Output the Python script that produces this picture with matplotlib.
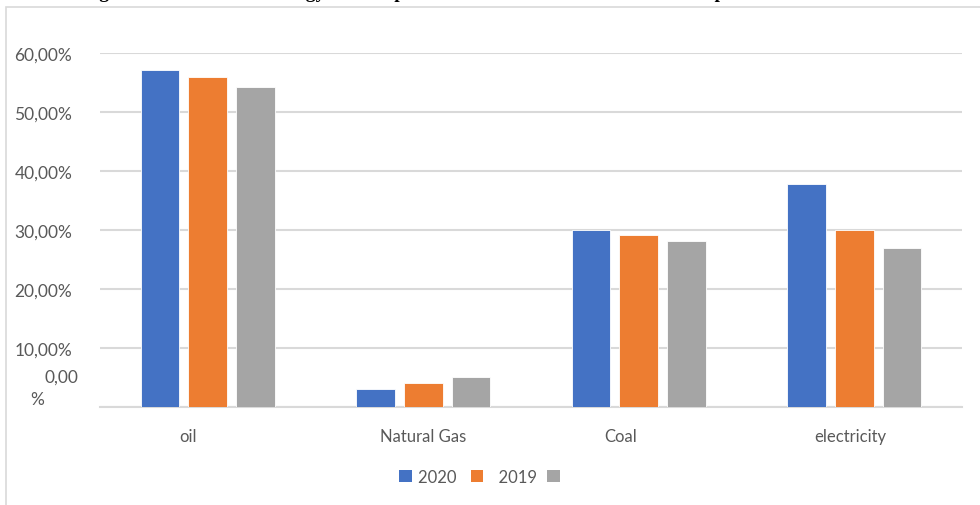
import numpy as np
import matplotlib
matplotlib.use('Agg')
import matplotlib.pyplot as plt
from matplotlib.patches import Patch, Rectangle
from matplotlib.transforms import ScaledTranslation

plt.rcParams['font.family'] = ['Lato', 'DejaVu Sans']

categories = ['oil', 'Natural Gas', 'Coal', 'electricity']
share_2020 = [0.572, 0.030, 0.300, 0.378]
share_2019 = [0.560, 0.040, 0.291, 0.300]
share_2018 = [0.543, 0.051, 0.281, 0.269]
series_labels = ['2020 ', '  2019', '']
colors = ['#4472C4', '#ED7D31', '#A5A5A5']
y_ticks = [0.0, 0.1, 0.2, 0.3, 0.4, 0.5, 0.6]
y_tick_labels = ['', '10,00%', '20,00%', '30,00%', '40,00%', '50,00%', '60,00%']

W, H = 980, 506
fig = plt.figure(figsize=(W / 100, H / 100), dpi=100)
ax = fig.add_axes([100 / W, (H - 408) / H, (962 - 100) / W, (408 - 54) / H])

# chart frame
fig.patches.append(Rectangle((6 / W, -0.1), 1.2, 1.1 - 8 / H, transform=fig.transFigure,
                             fill=False, edgecolor='#D9D9D9', linewidth=1.2))

# caption above the frame (cut by the top edge)
fig.text(82 / W, 1 + 1.8 / H,
         'Figure 3: Structure of energy consumption in the nation over the 2018-2020 period',
         fontsize=14, fontweight='bold', family='Liberation Serif', ha='left', va='baseline')

x = np.arange(len(categories))
bw = 0.179
step = 0.221
for i, (vals, lab) in enumerate(zip([share_2020, share_2019, share_2018], series_labels)):
    ax.bar(x + (i - 1) * step, vals, width=bw, color=colors[i], edgecolor='white',
           linewidth=0.6, label=lab, zorder=3)

ax.set_xlim(-0.5, len(categories) - 0.5)
ax.set_ylim(0, 0.6)
ax.set_yticks(y_ticks)
ax.set_yticklabels(y_tick_labels)
ax.yaxis.grid(True, color='#D9D9D9', linewidth=1.5, zorder=0)
ax.set_axisbelow(True)
ax.tick_params(axis='y', length=0, pad=20, labelsize=12.5, labelcolor='#595959')
ax.tick_params(axis='x', length=0, pad=15, labelsize=12, labelcolor='#595959')
ax.set_xticks(x)
ax.set_xticklabels(categories)
shifts = [-20, 0, -18, -4]
for lbl, dx in zip(ax.get_xticklabels(), shifts):
    lbl.set_transform(lbl.get_transform() + ScaledTranslation(dx / 100, 0, fig.dpi_scale_trans))
for s in ['top', 'right', 'left']:
    ax.spines[s].set_visible(False)
ax.spines['bottom'].set_color('#D9D9D9')
ax.spines['bottom'].set_linewidth(1.5)

# zero label wraps onto two lines
ax.annotate('0,00', xy=(0, 0), xycoords=('axes fraction', 'data'), xytext=(-22, 30),
            textcoords='offset pixels', ha='right', va='center', fontsize=12.5, color='#595959')
ax.annotate('%', xy=(0, 0), xycoords=('axes fraction', 'data'), xytext=(-70, 8),
            textcoords='offset pixels', ha='left', va='center', fontsize=12.5, color='#595959')

handles = [Patch(facecolor=c, edgecolor='none') for c in colors]
fig.legend(handles, series_labels, loc='center left', bbox_to_anchor=(384 / W, 1 - 478 / H),
           ncol=3, frameon=False, fontsize=12, labelcolor='#595959',
           handlelength=0.75, handleheight=0.75, handletextpad=0.4, columnspacing=0.6)

fig.savefig('out.png', dpi=100, facecolor='white')
